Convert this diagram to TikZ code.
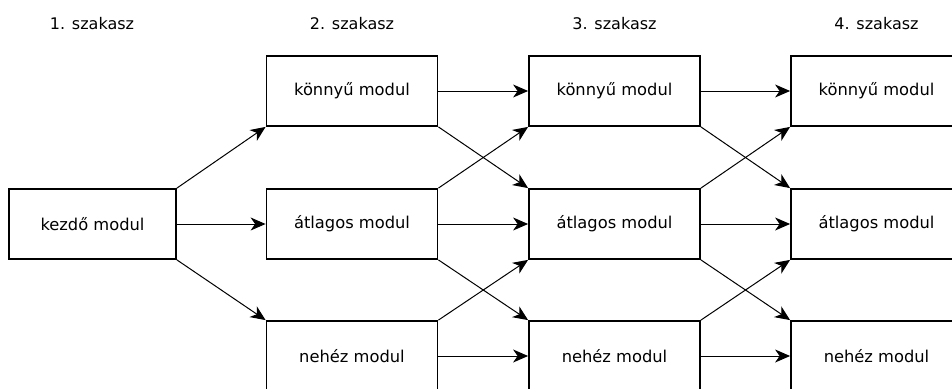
\documentclass[tikz,border=0pt]{standalone}
\usepackage{fontspec}
\setmainfont{DejaVu Sans}
\usetikzlibrary{arrows.meta}
\begin{document}
\begin{tikzpicture}[x=1pt,y=-1pt,
 modbox/.style={draw, line width=1.8pt, minimum width=171pt, minimum height=70pt, inner sep=0pt, font=\fontsize{16.3}{19}\selectfont},
 stagelbl/.style={inner sep=0pt, font=\fontsize{16}{19}\selectfont},
 conn/.style={line width=1pt, -{Stealth[length=15pt,width=13pt,inset=4.5pt]}}]
\useasboundingbox (0,0) rectangle (952,388);
% stage labels
\node[stagelbl] (l1) at (92,24) {1. szakasz};
\node[stagelbl] (l2) at (352,24) {2. szakasz};
\node[stagelbl] (l3) at (614.5,24) {3. szakasz};
\node[stagelbl] (l4) at (876.5,24) {4. szakasz};
% boxes
\node[modbox, minimum width=167pt] (s) at (92.5,224) {kezdő modul};
\node[modbox] (a1) at (352,91) {könnyű modul};
\node[modbox] (b1) at (352,224) {átlagos modul};
\node[modbox] (c1) at (352,356) {nehéz modul};
\node[modbox] (a2) at (614.5,91) {könnyű modul};
\node[modbox] (b2) at (614.5,224) {átlagos modul};
\node[modbox] (c2) at (614.5,356) {nehéz modul};
\node[modbox] (a3) at (876.5,91) {könnyű modul};
\node[modbox] (b3) at (876.5,224) {átlagos modul};
\node[modbox] (c3) at (876.5,356) {nehéz modul};
% connectors
\draw[conn] (s.north east) -- (a1.south west);
\draw[conn] (s.east) -- (b1.west);
\draw[conn] (s.south east) -- (c1.north west);
\draw[conn] (a1.east) -- (a2.west);
\draw[conn] (a1.south east) -- (b2.north west);
\draw[conn] (b1.north east) -- (a2.south west);
\draw[conn] (b1.east) -- (b2.west);
\draw[conn] (b1.south east) -- (c2.north west);
\draw[conn] (c1.north east) -- (b2.south west);
\draw[conn] (c1.east) -- (c2.west);
\draw[conn] (a2.east) -- (a3.west);
\draw[conn] (a2.south east) -- (b3.north west);
\draw[conn] (b2.north east) -- (a3.south west);
\draw[conn] (b2.east) -- (b3.west);
\draw[conn] (b2.south east) -- (c3.north west);
\draw[conn] (c2.north east) -- (b3.south west);
\draw[conn] (c2.east) -- (c3.west);
\end{tikzpicture}
\end{document}
